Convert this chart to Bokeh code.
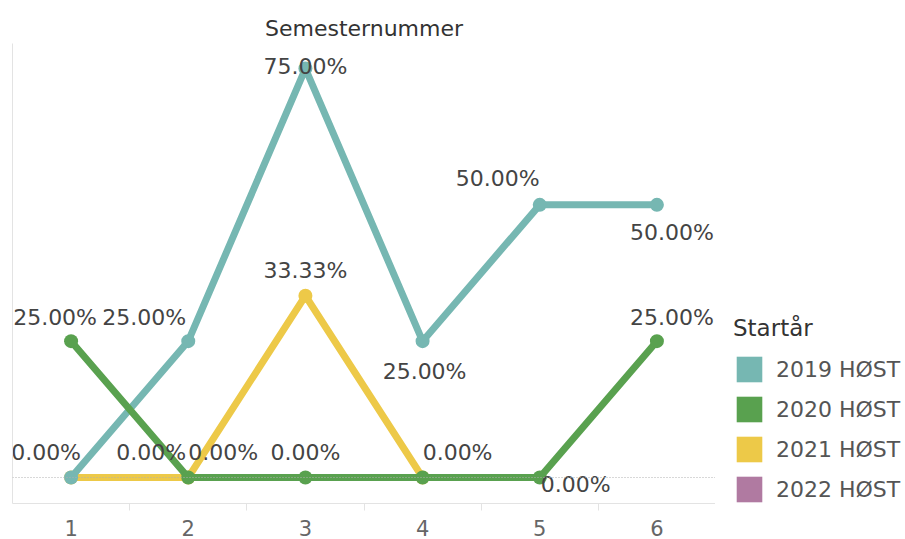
from bokeh.plotting import figure
from bokeh.layouts import row
from bokeh.models import ColumnDataSource, Range1d, FixedTicker, Span, Legend, LegendItem
from bokeh.embed import file_html
from bokeh.resources import INLINE
from bokeh.core.properties import value

# ---- data ----
semester = [1, 2, 3, 4, 5, 6]
tick_labels = ["1", "2", "3", "4", "5", "6"]
series_names = ["2019 HØST", "2020 HØST", "2021 HØST", "2022 HØST"]
colors = ["#76B7B2", "#59A14F", "#EDC948", "#B07AA1"]
v2019 = [0.0, 25.0, 75.0, 25.0, 50.0, 50.0]
v2020 = [25.0, 0.0, 0.0, 0.0, 0.0, 25.0]
v2021 = [0.0, 0.0, 33.33, 0.0]
v2022 = []

# label placement (screen px offsets, None = label hidden)
off2019 = [(-25, -25), (-44, -24), (0, -2), (2, 30), (-42, -26), (15, 28)]
off2020 = [(-16, -24), (-37, -25), (0, -25), (35, -25), (36, 7), (15, -24)]
off2021 = [None, (35, -25), (0, -25), None]
off2022 = []

FONT = "DejaVu Sans"
NAN = float("nan")

p = figure(width=715, height=539, output_backend="svg", toolbar_location=None,
           x_range=Range1d(0.5, 6.5), y_range=Range1d(-4.77, 79.59),
           min_border_left=12, min_border_right=0, min_border_top=43,
           min_border_bottom=36)
p.outline_line_color = None
p.grid.visible = False
p.background_fill_color = "white"

p.title.text = "Semesternummer"
p.title.align = "center"
p.title.text_font = FONT
p.title.text_font_size = "22px"
p.title.text_font_style = "normal"
p.title.text_color = "#333333"
p.title.standoff = 6

xa = p.xaxis[0]
xa.ticker = FixedTicker(ticks=semester, minor_ticks=[1.5, 2.5, 3.5, 4.5, 5.5])
xa.major_label_overrides = {s: t for s, t in zip(semester, tick_labels)}
xa.major_tick_line_color = None
xa.major_tick_out = 0
xa.major_tick_in = 0
xa.minor_tick_out = 7
xa.minor_tick_in = 0
xa.minor_tick_line_color = "#e3e3e3"
xa.axis_line_color = "#e3e3e3"
xa.major_label_text_font = FONT
xa.major_label_text_font_size = "21px"
xa.major_label_text_color = "#666666"
xa.major_label_standoff = 9

ya = p.yaxis[0]
ya.ticker = FixedTicker(ticks=[])
ya.axis_line_color = "#e3e3e3"
ya.major_tick_line_color = None
ya.minor_tick_line_color = None
ya.major_label_standoff = 0
ya.major_tick_out = 0

p.add_layout(Span(location=0, dimension="width", line_color="#b0b0b0",
                  line_dash="1 2", line_width=1))

all_vals = [v2019, v2020, v2021, v2022]
all_offs = [off2019, off2020, off2021, off2022]

draw_order = [2, 0, 1]
for i in draw_order:
    vals = all_vals[i]
    xs = semester[:len(vals)]
    src = ColumnDataSource(dict(x=xs, y=vals))
    p.line("x", "y", source=src, line_color=colors[i], line_width=7,
           line_join="round", line_cap="round")
    p.scatter("x", "y", source=src, size=14, fill_color=colors[i], line_color=None)

for i in draw_order:
    vals = all_vals[i]
    offs = all_offs[i]
    lx, ly, lt, dx, dy = [], [], [], [], []
    for s, v, o in zip(semester, vals, offs):
        if o is None:
            continue
        lx.append(s); ly.append(v); lt.append(f"{v:.2f}%")
        dx.append(o[0]); dy.append(o[1])
    lsrc = ColumnDataSource(dict(x=lx, y=ly, t=lt, dx=dx, dy=dy))
    p.text("x", "y", text="t", source=lsrc, x_offset="dx", y_offset="dy",
           text_align="center", text_baseline="middle",
           text_font=value(FONT), text_font_size="22px", text_color="#444444")

# ---- legend panel ----
q = figure(width=190, height=539, output_backend="svg", toolbar_location=None,
           x_range=Range1d(0, 1), y_range=Range1d(0, 1), min_border=0)
q.outline_line_color = None
q.axis.visible = False
q.grid.visible = False

items = []
for name, c in zip(series_names, colors):
    r = q.quad(left=[NAN], right=[NAN], top=[NAN], bottom=[NAN],
               fill_color=c, line_color=None)
    items.append(LegendItem(label=name, renderers=[r]))

legend = Legend(items=items, title="Startår", location=(18, -2))
legend.title_text_font = FONT
legend.title_text_font_size = "23px"
legend.title_text_font_style = "normal"
legend.title_text_color = "#333333"
legend.title_standoff = 12
legend.label_text_font = FONT
legend.label_text_font_size = "22px"
legend.label_text_color = "#555555"
legend.glyph_width = 32
legend.glyph_height = 32
legend.spacing = 8
legend.padding = 4
legend.margin = 0
legend.label_standoff = 11
legend.border_line_color = None
legend.background_fill_alpha = 0
q.add_layout(legend, "center")

layout = row(p, q)
open("out.html", "w").write(file_html(layout, INLINE))
